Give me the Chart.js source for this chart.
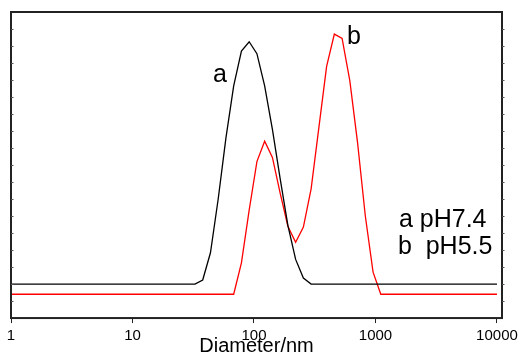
<!DOCTYPE html>
<html lang="en">
<head>
<meta charset="UTF-8">
<title>Size distribution</title>
<style>
  html, body { margin: 0; padding: 0; background: #fff; }
  #wrap { width: 520px; height: 355px; position: relative; }
</style>
</head>
<body>
<div id="wrap"><canvas id="sizeChart"></canvas></div>
<script src="https://cdn.jsdelivr.net/npm/chart.js@4.4.1/dist/chart.umd.min.js"></script>
<script>
// size bins (nm) and intensity
const diamA = [1, 32.67, 37.84, 43.82, 50.75, 58.77, 68.06, 78.82, 91.28, 105.7, 122.4, 141.8, 164.2, 190.1, 220.2, 255.0, 295.3, 10000];
const intA  = [2.0, 2.0, 2.24, 3.84, 7.0, 10.6, 13.65, 15.7, 16.25, 15.55, 13.65, 11.1, 8.2, 5.45, 3.45, 2.35, 2.0, 2.0];

const diamB = [1, 68.06, 78.82, 91.28, 105.7, 122.4, 141.8, 164.2, 190.1, 220.2, 255.0, 295.3, 342.0, 396.1, 458.7, 531.2, 615.1, 712.4, 825.0, 955.4, 1106, 10000];
const intB  = [1.4, 1.4, 3.25, 6.35, 9.2, 10.4, 9.45, 7.35, 5.4, 4.45, 5.35, 7.6, 11.2, 14.8, 16.7, 16.45, 13.95, 10.3, 6.0, 2.7, 1.4, 1.4];

const xTicks = [1, 10, 100, 1000, 10000];
const yTicks = [1, 2, 3, 4, 5, 6, 7, 8, 9, 10, 11, 12, 13, 14, 15, 16, 17];

// text labels in the plot, placed in data units
const noteText = ['a', 'b', 'a pH7.4', 'b  pH5.5'];
const noteX = [46, 582, 1560, 1530];
const noteY = [13.9, 16.1, 5.35, 3.75];

const FONT = "'Liberation Sans', Arial, sans-serif";
Chart.defaults.font.family = FONT;
Chart.defaults.color = '#000';

const toPts = (xs, ys) => xs.map((v, i) => ({ x: v, y: ys[i] }));

const framePlugin = {
    id: 'frame',
    afterDatasetsDraw(chart) {
        const { ctx, chartArea: a, scales: { x, y } } = chart;
        ctx.save();
        ctx.strokeStyle = '#222';
        ctx.lineWidth = 2;
        ctx.strokeRect(a.left, a.top, a.right - a.left, a.bottom - a.top);

        // little ticks on the left (inside) and right (outside)
        ctx.lineWidth = 1;
        ctx.strokeStyle = '#555';
        yTicks.forEach(v => {
            const py = Math.round(y.getPixelForValue(v)) + 0.5;
            ctx.beginPath();
            ctx.moveTo(a.left, py); ctx.lineTo(a.left + 2.5, py);
            ctx.moveTo(a.right, py); ctx.lineTo(a.right + 2.5, py);
            ctx.stroke();
        });

        ctx.fillStyle = '#000';
        ctx.font = '25px ' + FONT;
        ctx.textAlign = 'left';
        ctx.textBaseline = 'alphabetic';
        noteText.forEach((t, i) => {
            ctx.fillText(t, x.getPixelForValue(noteX[i]), y.getPixelForValue(noteY[i]));
        });
        ctx.restore();
    }
};

new Chart(document.getElementById('sizeChart'), {
    type: 'scatter',
    data: {
        datasets: [{
            label: 'a pH7.4',
            data: toPts(diamA, intA),
            showLine: true,
            borderColor: '#000',
            borderWidth: 1.3,
            pointRadius: 0,
        }, {
            label: 'b pH5.5',
            data: toPts(diamB, intB),
            showLine: true,
            borderColor: '#ff0000',
            borderWidth: 1.3,
            pointRadius: 0,
        }]
    },
    options: {
        responsive: true,
        maintainAspectRatio: false,
        animation: false,
        layout: { padding: { left: 11, right: 18, top: 12, bottom: 0 } },
        plugins: { legend: { display: false }, tooltip: { enabled: false } },
        scales: {
            x: {
                type: 'logarithmic',
                min: 1,
                max: 11000,
                afterBuildTicks: s => { s.ticks = xTicks.map(v => ({ value: v })); },
                ticks: {
                    callback: v => String(v),
                    font: { size: 15, lineHeight: 1.73 },
                    color: '#000',
                    padding: 0,
                    autoSkip: false,
                    maxRotation: 0,
                },
                grid: { display: true, drawOnChartArea: false, drawTicks: true, tickLength: 5, color: '#222' },
                border: { display: false },
                title: {
                    display: true,
                    text: 'Diameter/nm',
                    font: { size: 20, lineHeight: 1 },
                    color: '#000',
                    padding: { top: -13, bottom: -1 },
                },
            },
            y: { display: false, min: 0, max: 18 },
        }
    },
    plugins: [framePlugin]
});
</script>
</body>
</html>
